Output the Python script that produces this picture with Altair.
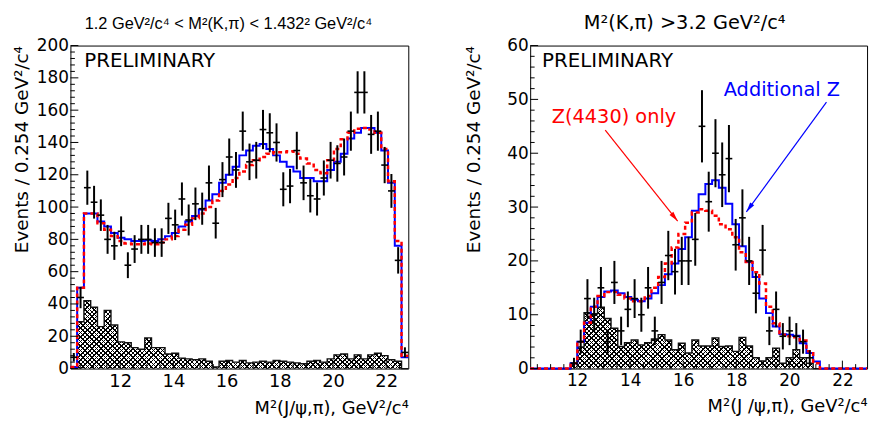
import altair as alt
import pandas as pd

# ---------------- data ----------------
BIN_W = 0.254
N_BINS = 50
left_x0 = 10.13
right_x0 = 10.23

left_data = [7, 44, 112, 103, 95, 80, 76, 85, 64, 74, 80, 80, 78, 78, 93, 89, 105, 92, 102, 99,
             115, 90, 117, 131, 123, 147, 128, 129, 148, 146, 140, 111, 113, 135, 115, 107, 105, 118, 129, 127,
             131, 147, 171, 171, 145, 147, 126, 110, 67, 10]
left_addz = [1, 50, 96, 96, 91, 88, 84, 81, 80, 79, 79, 79.5, 79, 80, 82, 84, 88, 91, 94.5, 98.5,
             104, 108, 115, 120, 125, 132, 135, 138, 139, 136, 132, 128, 125, 122, 118, 118, 116, 116, 123, 128,
             133, 142.5, 146, 149, 149, 146, 135, 115, 76, 7]
left_z4430 = [1, 50, 96, 96, 90, 86, 82, 79, 77.5, 77, 77, 77.5, 77, 78, 80, 82, 86, 89, 93, 96,
              100, 104, 110, 114, 118, 122, 126, 129, 131, 133, 134, 134, 134.5, 133, 130, 127, 123, 121, 129, 136,
              142, 146, 148.5, 149, 148, 146, 136, 116, 79, 8]
left_bkg = [1, 29, 42, 38, 26, 36, 27, 16.5, 16, 13, 12, 19, 13, 13, 9, 9.5, 6.5, 6, 5.5, 6,
            4.5, 1, 4.5, 5, 4, 5, 3.5, 4, 4.5, 4, 5, 4.5, 4, 3.5, 3, 4.5, 5, 4, 6, 8.5,
            9, 6, 8.5, 6, 8.5, 9.5, 8, 5.5, 4.5, 0]

right_data = [0, 0, 0, 0, 0, 0, 1, 5, 13, 10, 15, 5, 16, 7, 11, 13, 10, 15, 7, 16,
              21, 18, 20, 20, 24, 45, 31, 40, 36, 39, 23, 28, 20, 14, 22, 7, 11, 6, 7, 6,
              5, 2, 0, 0, 0, 0, 0, 0, 0, 0]
right_addz = [0, 0, 0, 0, 0, 0, 1, 5, 8.5, 11.5, 13.3, 14.3, 14.5, 14, 13.3, 12.8, 12.5, 13, 14, 15.5,
              17.5, 19.5, 22.2, 24.4, 29.3, 32.4, 34.3, 35, 33.6, 30.6, 26.8, 22.7, 19.8, 17, 13, 10.3, 7.8, 6.4, 6.3, 6.1,
              4.7, 2.9, 1.3, 0, 0, 0, 0, 0, 0, 0]
right_z4430 = [0, 0, 0, 0, 0, 0, 1, 5, 8.5, 11.5, 13.5, 14.2, 14.2, 13.7, 13, 12.5, 12.5, 13.5, 15, 17,
               19.5, 22.5, 25, 27.1, 29, 29.6, 29.3, 28.4, 26.8, 25.9, 24.4, 21.6, 19.8, 17.9, 15.8, 11.5, 8.4, 6.3, 6, 5.8,
               5.2, 3.2, 1, 0, 0, 0, 0, 0, 0, 0]
right_bkg = [0, 0, 0, 0, 0, 0, 1, 4, 10.4, 10.2, 11.4, 9.3, 7.5, 4.1, 4.8, 5.3, 4.4, 4.8, 5.5, 6.3,
             5.3, 3.5, 4.7, 2.9, 5.3, 4.2, 4.2, 5.7, 4.1, 4.2, 3.2, 5.8, 4.2, 2, 1.4, 2, 3.8, 1, 2, 3.5,
             2, 1, 0, 0, 0, 0, 0, 0, 0, 0]

x_major = [12, 14, 16, 18, 20, 22]
x_minor = [10.5, 11, 11.5, 12.5, 13, 13.5, 14.5, 15, 15.5, 16.5, 17, 17.5, 18.5, 19, 19.5,
           20.5, 21, 21.5, 22.5]
left_y_major = [0, 20, 40, 60, 80, 100, 120, 140, 160, 180, 200]
left_y_minor = [v for v in range(4, 200, 4) if v % 20 != 0]
right_y_major = [0, 10, 20, 30, 40, 50, 60]
right_y_minor = [v for v in range(2, 60, 2) if v % 10 != 0]

left_title = "1.2 GeV²/c⁴ < M²(K,π) < 1.432² GeV²/c⁴"
right_title = "M²(K,π) >3.2 GeV²/c⁴"
y_title = "Events / 0.254 GeV²/c⁴"
left_x_title = "M²(J/ψ,π), GeV²/c⁴"
right_x_title = "M²(J /ψ,π), GeV²/c⁴"

# annotation anchors (data coordinates of the right panel)
red_label = {"x": 13.39, "y": 46.8, "t": "Z(4430) only"}
blue_label = {"x": 19.72, "y": 51.7, "t": "Additional Z"}
red_arrow = {"x": 13.06, "y": 44.3, "x2": 15.79, "y2": 27.4}
blue_arrow = {"x": 21.40, "y": 49.5, "x2": 18.38, "y2": 29.1}

# ---------------- styling ----------------
PLOT_H = 326
LEFT_W = 341
RIGHT_W = 340
MAJOR_LEN = 8
MINOR_LEN = 4.5
HATCH_PERIOD = 4.6
HATCH_LINE = 1.5
INK = "#000000"
CLEAR = "rgba(0,0,0,0)"
BLUE = "#0000ff"
RED = "#ff0000"
FONT = "DejaVu Sans"
ARROW_PATH = "M0,0L-0.25,1L0.25,1Z"


def step_frame(x0, addz, z4430, bkg):
    e = [x0 + i * BIN_W for i in range(N_BINS + 1)]
    return pd.DataFrame({
        "edge": e,
        "addz": list(addz) + [addz[-1]],
        "z4430": list(z4430) + [z4430[-1]],
        "bkg": list(bkg) + [bkg[-1]],
    })


def point_frame(x0, counts):
    rows = []
    for i, n in enumerate(counts):
        if n <= 0:
            continue
        lo = x0 + i * BIN_W
        rows.append({"lo": lo, "hi": lo + BIN_W, "mid": lo + BIN_W / 2, "n": n})
    return pd.DataFrame(rows)


def hatch_gradients(w_px, h_px):
    r = h_px / w_px
    k = (1 + r) / (1 + r * r)
    span = w_px + h_px
    period = HATCH_PERIOD / span
    line = HATCH_LINE / span
    stops = []
    a = 0.0
    while a < 1.0:
        b = round(min(a + line, 1.0), 5)
        c = round(min(a + period, 1.0), 5)
        a0 = round(a, 5)
        stops += [alt.GradientStop(color=INK, offset=a0), alt.GradientStop(color=INK, offset=b),
                  alt.GradientStop(color=CLEAR, offset=b), alt.GradientStop(color=CLEAR, offset=c)]
        a += period
    g1 = alt.LinearGradient(gradient="linear", stops=stops, x1=0, y1=0, x2=k, y2=k * r)
    g2 = alt.LinearGradient(gradient="linear", stops=stops, x1=0, y1=1, x2=k, y2=1 - k * r)
    return g1, g2


def panel(x0, width, data, addz, z4430, bkg, ymax, y_major, y_minor,
          xtitle, ytitle_pad, xlab_size, prelim_pos, title, title_font, title_size, title_dx):
    xscale = alt.Scale(domain=[x0, x0 + N_BINS * BIN_W], nice=False, zero=False)
    yscale = alt.Scale(domain=[0, ymax], nice=False, zero=False)
    xaxis = alt.Axis(values=x_major, format="d", title=xtitle, titleAnchor="end",
                     labelFontSize=xlab_size, labelPadding=4, titleFontSize=18,
                     titlePadding=9, labelOverlap=False, tickCount=len(x_major))
    yaxis = alt.Axis(values=y_major, format="d", title=y_title, titleAnchor="end",
                     labelFontSize=17, labelPadding=2, titleFontSize=18.5,
                     titlePadding=ytitle_pad, labelOverlap=False, tickCount=len(y_major))
    sf = step_frame(x0, addz, z4430, bkg)
    pf = point_frame(x0, data)
    base = alt.Chart(sf)

    def X(f):
        return alt.X(f, scale=xscale, axis=xaxis)

    def Y(f):
        return alt.Y(f, scale=yscale, axis=yaxis)

    h_px = max(bkg) / ymax * PLOT_H
    g1, g2 = hatch_gradients(width, h_px)

    hatch1 = base.mark_area(interpolate="step-after", fill=g1, opacity=1).encode(
        x=X("edge:Q"), y=Y("bkg:Q"))
    hatch2 = base.mark_area(interpolate="step-after", fill=g2, opacity=1).encode(
        x=X("edge:Q"), y=Y("bkg:Q"))
    outline = base.mark_line(interpolate="step-after", color="#111111", strokeWidth=1.4).encode(
        x=X("edge:Q"), y=Y("bkg:Q"))
    blue = base.mark_line(interpolate="step-after", color=BLUE, strokeWidth=2).encode(
        x=X("edge:Q"), y=Y("addz:Q"))
    red = base.mark_line(interpolate="step-after", color=RED, strokeWidth=2.5,
                         strokeDash=[4, 3]).encode(
        x=X("edge:Q"), y=Y("z4430:Q"))
    pts = alt.Chart(pf).transform_calculate(
        elo="datum.n - sqrt(datum.n)", ehi="datum.n + sqrt(datum.n)")
    vbar = pts.mark_rule(color="black", strokeWidth=2).encode(
        x=X("mid:Q"), y=Y("elo:Q"), y2="ehi:Q")
    hbar = pts.mark_rule(color="black", strokeWidth=1.6).encode(
        x=X("lo:Q"), x2="hi:Q", y=Y("n:Q"))

    def xticks(vals, ln):
        return alt.Chart(pd.DataFrame({"v": vals})).mark_rule(color="black", strokeWidth=1).encode(
            x=X("v:Q"), y=alt.value(PLOT_H), y2=alt.value(PLOT_H - ln))

    def yticks(vals, ln):
        return alt.Chart(pd.DataFrame({"v": vals})).mark_rule(color="black", strokeWidth=1).encode(
            y=Y("v:Q"), x=alt.value(0), x2=alt.value(ln))

    prelim = alt.Chart(pd.DataFrame({"t": ["PRELIMINARY"]})).mark_text(
        align="left", baseline="middle", font=FONT, fontSize=20, color="black").encode(
        text="t:N", x=alt.value(prelim_pos[0]), y=alt.value(prelim_pos[1]))

    head = alt.Chart(pd.DataFrame({"t": [title]})).mark_text(
        align="center", baseline="alphabetic", font=title_font, fontSize=title_size,
        color="black").encode(
        text="t:N", x=alt.value(width / 2 + title_dx), y=alt.value(-17))

    layers = [hatch1, hatch2, outline, blue, red, vbar, hbar,
              xticks(x_major, MAJOR_LEN), xticks(x_minor, MINOR_LEN),
              yticks(y_major, MAJOR_LEN), yticks(y_minor, MINOR_LEN), prelim, head]
    return layers, X, Y


# ---------------- left panel ----------------
left_layers, _, _ = panel(
    left_x0, LEFT_W, left_data, left_addz, left_z4430, left_bkg, 200, left_y_major, left_y_minor,
    left_x_title, 5, 18, (14, 16), left_title, "Liberation Sans", 16.5, -11)
left = alt.layer(*left_layers).properties(width=LEFT_W, height=PLOT_H)

# ---------------- right panel ----------------
right_layers, RX, RY = panel(
    right_x0, RIGHT_W, right_data, right_addz, right_z4430, right_bkg, 60, right_y_major,
    right_y_minor, right_x_title, 23, 17, (12, 16), right_title, FONT, 19.5, -14)


def arrow(spec, color, angle):
    df = pd.DataFrame([spec])
    line = alt.Chart(df).mark_rule(color=color, strokeWidth=1.2).encode(
        x=RX("x:Q"), y=RY("y:Q"), x2="x2:Q", y2="y2:Q")
    head = alt.Chart(df).mark_point(shape=ARROW_PATH, filled=True, size=400, angle=angle,
                                    color=color, opacity=1, strokeWidth=0).encode(
        x=RX("x2:Q"), y=RY("y2:Q"))
    return [line, head]


def label(spec, color):
    return alt.Chart(pd.DataFrame([spec])).mark_text(
        font=FONT, fontSize=19.5, color=color, align="center", baseline="middle").encode(
        x=RX("x:Q"), y=RY("y:Q"), text="t:N")


right_layers += arrow(red_arrow, RED, 141) + arrow(blue_arrow, BLUE, 216)
right_layers += [label(red_label, RED), label(blue_label, BLUE)]

right = alt.layer(*right_layers).properties(width=RIGHT_W, height=PLOT_H)

chart = alt.hconcat(left, right, spacing=123, bounds="flush").properties(
    padding={"left": 4, "top": 2, "right": 0, "bottom": 0}, background="white"
).configure_view(
    stroke="black", strokeWidth=1
).configure_axis(
    labelFont=FONT, titleFont=FONT, labelColor="black", titleColor="black",
    titleFontWeight="normal", grid=False, ticks=False, tickSize=0, domain=False,
    labelOverlap=False
)

chart.save("out.html", embed_options={"renderer": "svg", "actions": False})
